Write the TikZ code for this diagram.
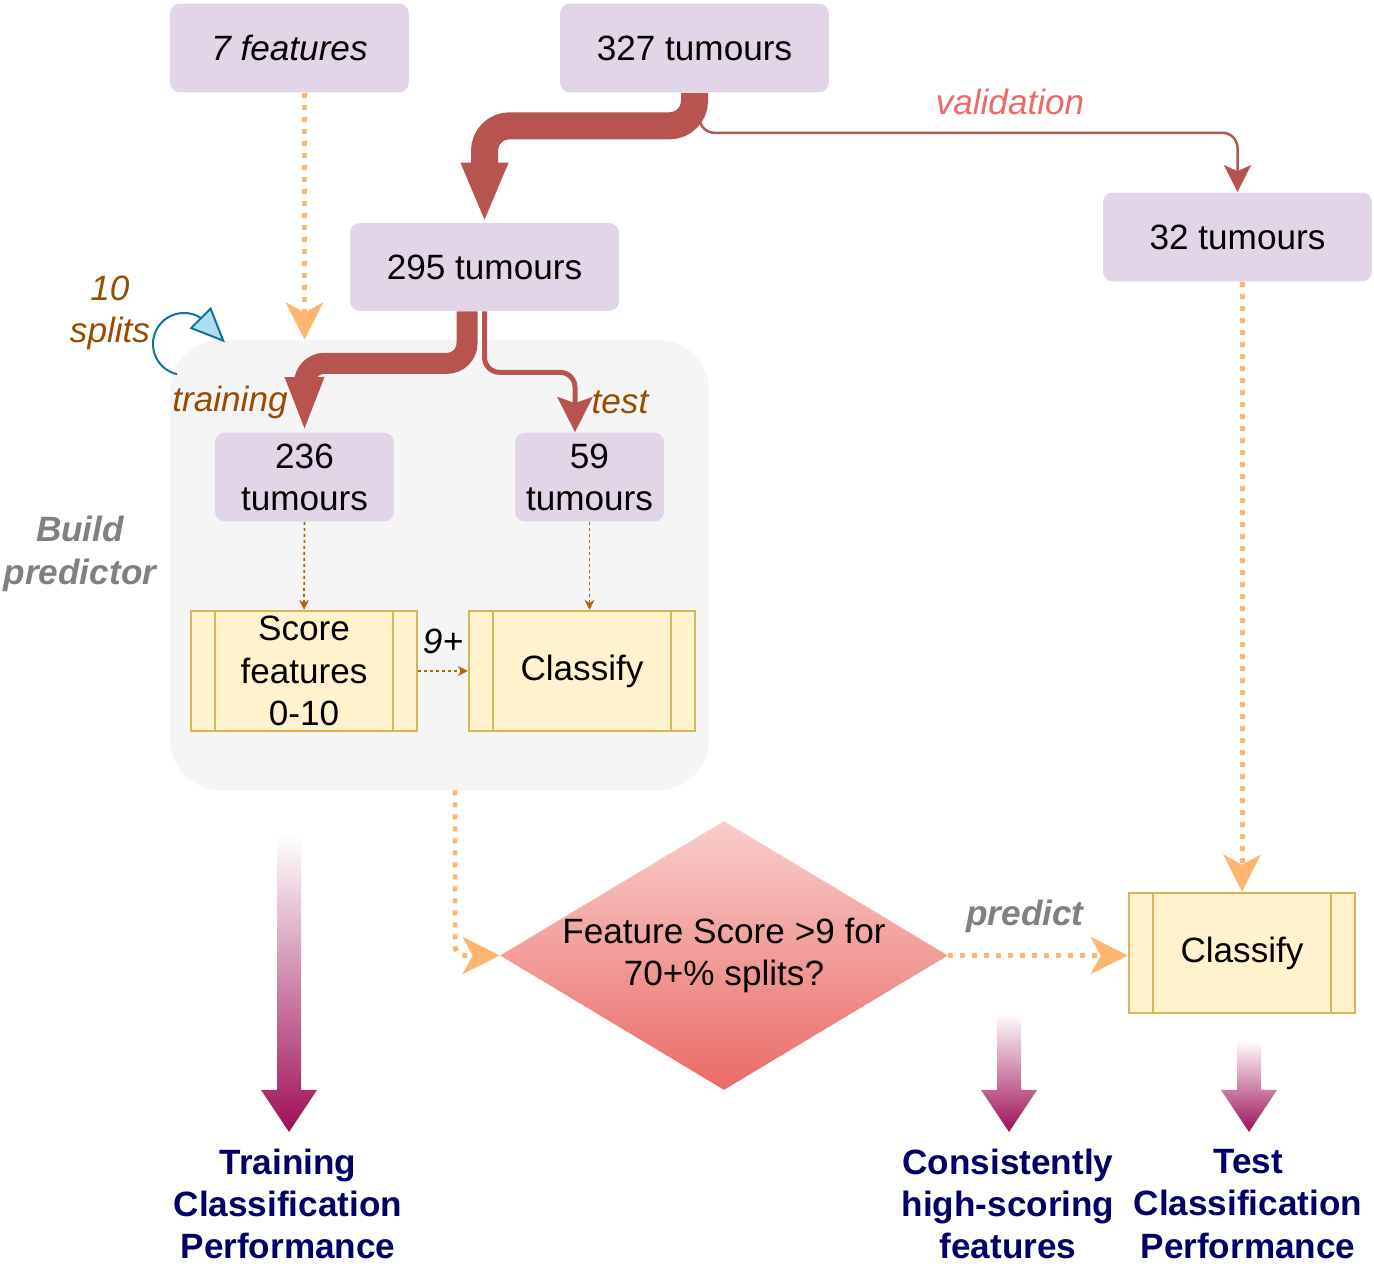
\documentclass[tikz,border=0pt]{standalone}
\usepackage{fontspec}
\setmainfont{Liberation Sans}
\usetikzlibrary{arrows.meta,shapes.geometric}

\definecolor{tumfill}{HTML}{E1D5E7}
\definecolor{buildfill}{HTML}{F5F5F5}
\definecolor{procfill}{HTML}{FFF2CC}
\definecolor{procline}{HTML}{D6B656}
\definecolor{flowred}{HTML}{B85450}
\definecolor{feedorange}{HTML}{FFB570}
\definecolor{labbrown}{HTML}{994C00}
\definecolor{dotbrown}{HTML}{B46504}
\definecolor{valred}{HTML}{EA6B66}
\definecolor{dectop}{HTML}{F8CECC}
\definecolor{decbot}{HTML}{EA6B66}
\definecolor{outnavy}{HTML}{000066}
\definecolor{outmag}{HTML}{9E0F57}
\definecolor{loopblue}{HTML}{10739E}
\definecolor{loopfill}{HTML}{B1DDF0}

\tikzset{
	every node/.style={font=\fontsize{20}{24}\selectfont},
	tumbox/.style={rectangle, rounded corners=0.2cm, fill=tumfill, minimum height=1.78cm, align=center, inner sep=0},
	procbox/.style={rectangle, draw=procline, fill=procfill, line width=0.05cm, minimum width=4.52cm, minimum height=2.4cm, align=center, inner sep=0,
		path picture={
			\draw[procline, line width=0.05cm] ([xshift=0.48cm]path picture bounding box.north west) -- ([xshift=0.48cm]path picture bounding box.south west);
			\draw[procline, line width=0.05cm] ([xshift=-0.48cm]path picture bounding box.north east) -- ([xshift=-0.48cm]path picture bounding box.south east);}},
	flowlab/.style={font=\fontsize{20}{24}\selectfont\itshape, text=labbrown, align=center},
	greylab/.style={font=\fontsize{20}{24}\selectfont\bfseries\itshape, text=black!50, align=center},
	outlab/.style={font=\fontsize{20}{24}\selectfont\bfseries, text=outnavy, align=center},
	feed/.style={draw=feedorange, line width=0.1cm, dash pattern=on 0.1cm off 0.14cm, -{Stealth[length=0.74cm, width=0.74cm, inset=0.2cm, fill=feedorange]}},
	dotflow/.style={draw=dotbrown, line width=0.035cm, dash pattern=on 0.06cm off 0.06cm, -{Stealth[length=0.2cm, width=0.2cm]}}
}

\begin{document}
\begin{tikzpicture}[x=0.02cm, y=-0.02cm]
	\useasboundingbox (0,0) rectangle (1374,1266);

	% Build predictor panel
	\node[rectangle, rounded corners=1cm, fill=buildfill, minimum width=10.78cm, minimum height=9cm] (build) at (439.5,565) {};
	\node[greylab] (buildlab) at (80,554) {Build\\predictor};

	% Tumour sets
	\node[tumbox, minimum width=4.78cm] (feat) at (289.5,48) {\textit{7 features}};
	\node[tumbox, minimum width=5.38cm] (all) at (694.5,48) {327 tumours};
	\node[tumbox, minimum width=5.38cm, minimum height=1.76cm] (train) at (484.5,267) {295 tumours};
	\node[tumbox, minimum width=5.38cm] (valid) at (1237.5,237) {32 tumours};
	\node[tumbox, minimum width=3.58cm] (tr236) at (304.5,477) {236\\tumours};
	\node[tumbox, minimum width=2.98cm] (te59) at (589.5,477) {59\\tumours};

	% Processes and decision
	\node[procbox] (score) at (304,671) {Score\\features\\0-10};
	\node[procbox] (cls1) at (582,671) {Classify};
	\node[procbox] (cls2) at (1242,953) {Classify};
	\node[diamond, top color=dectop, bottom color=decbot, minimum width=8.96cm, minimum height=5.38cm, inner sep=0,
		label={[align=center]center:Feature Score >9 for\\70+\% splits?}] (dec) at (724,955.5) {};

	% Splits
	\draw[flowred, line width=0.05cm, rounded corners=0.3cm, -{Stealth[length=0.54cm, width=0.54cm, inset=0.12cm]}]
		([xshift=0.1cm]all.south) -- ++(0,40) -| (valid.north);
	\node[font=\fontsize{20}{24}\selectfont\itshape, text=valred] (vallab) at (1010,102) {validation};
	\draw[flowred, line width=0.54cm, rounded corners=0.5cm, -{Triangle[length=1.2cm, width=0.86cm]}]
		(all.south) -- ++(0,33) -| (train.north);
	\draw[flowred, line width=0.1cm, rounded corners=0.3cm, -{Stealth[length=0.7cm, width=0.7cm, inset=0.12cm]}]
		(train.south) -- ++(0,61) -| ([xshift=-0.29cm]te59.north);
	\draw[flowred, line width=0.42cm, rounded corners=0.4cm, -{Triangle[length=1.1cm, width=0.7cm]}]
		([xshift=-0.35cm]train.south) -- ++(0,52) -| (tr236.north);
	\node[flowlab] (trlab) at (230,402) {training};
	\node[flowlab] (telab) at (620,402) {test};

	% Ten splits loop
	\draw[loopblue, line width=0.04cm, -{Triangle[length=0.7cm, width=0.6cm, fill=loopfill]}]
		(184,344) ++(103:31) arc[start angle=103, end angle=301, radius=31] -- ++(25,25);
	\node[flowlab] (splitlab) at (110,313) {10\\splits};

	% Inside the panel
	\draw[dotflow] (tr236.south) -- (score.north);
	\draw[dotflow] (te59.south) -- (te59.south |- cls1.north);
	\draw[dotflow] (score.east) -- (cls1.west) node[midway, above=0.2cm, font=\fontsize{20}{24}\selectfont\itshape] (ninelab) {9+};

	% Orange feeds
	\draw[feed] (feat.south -| tr236) -- (tr236 |- build.north);
	\draw[feed, rounded corners=0.2cm] ([xshift=0.31cm]build.south) |- (dec.west);
	\draw[feed] (valid.south -| cls2.north) -- (cls2.north);
	\draw[feed] (dec.east) -- (dec.east -| cls2.west);
	\node[greylab] (predlab) at (1025,916) {predict};

	% Outputs
	\foreach \x/\ytop in {289/835, 1009/1013, 1249/1040}
		\shade[top color=white, bottom color=outmag] (\x-12,\ytop) -- (\x+12,\ytop) -- (\x+12,1090) -- (\x+28,1090) -- (\x,1132) -- (\x-28,1090) -- (\x-12,1090) -- cycle;
	\node[outlab] (trperf) at (288,1204) {Training\\Classification\\Performance};
	\node[outlab] (hifeat) at (1008,1204) {Consistently\\high-scoring\\features};
	\node[outlab] (teperf) at (1248,1204) {Test\\Classification\\Performance};
\end{tikzpicture}
\end{document}
